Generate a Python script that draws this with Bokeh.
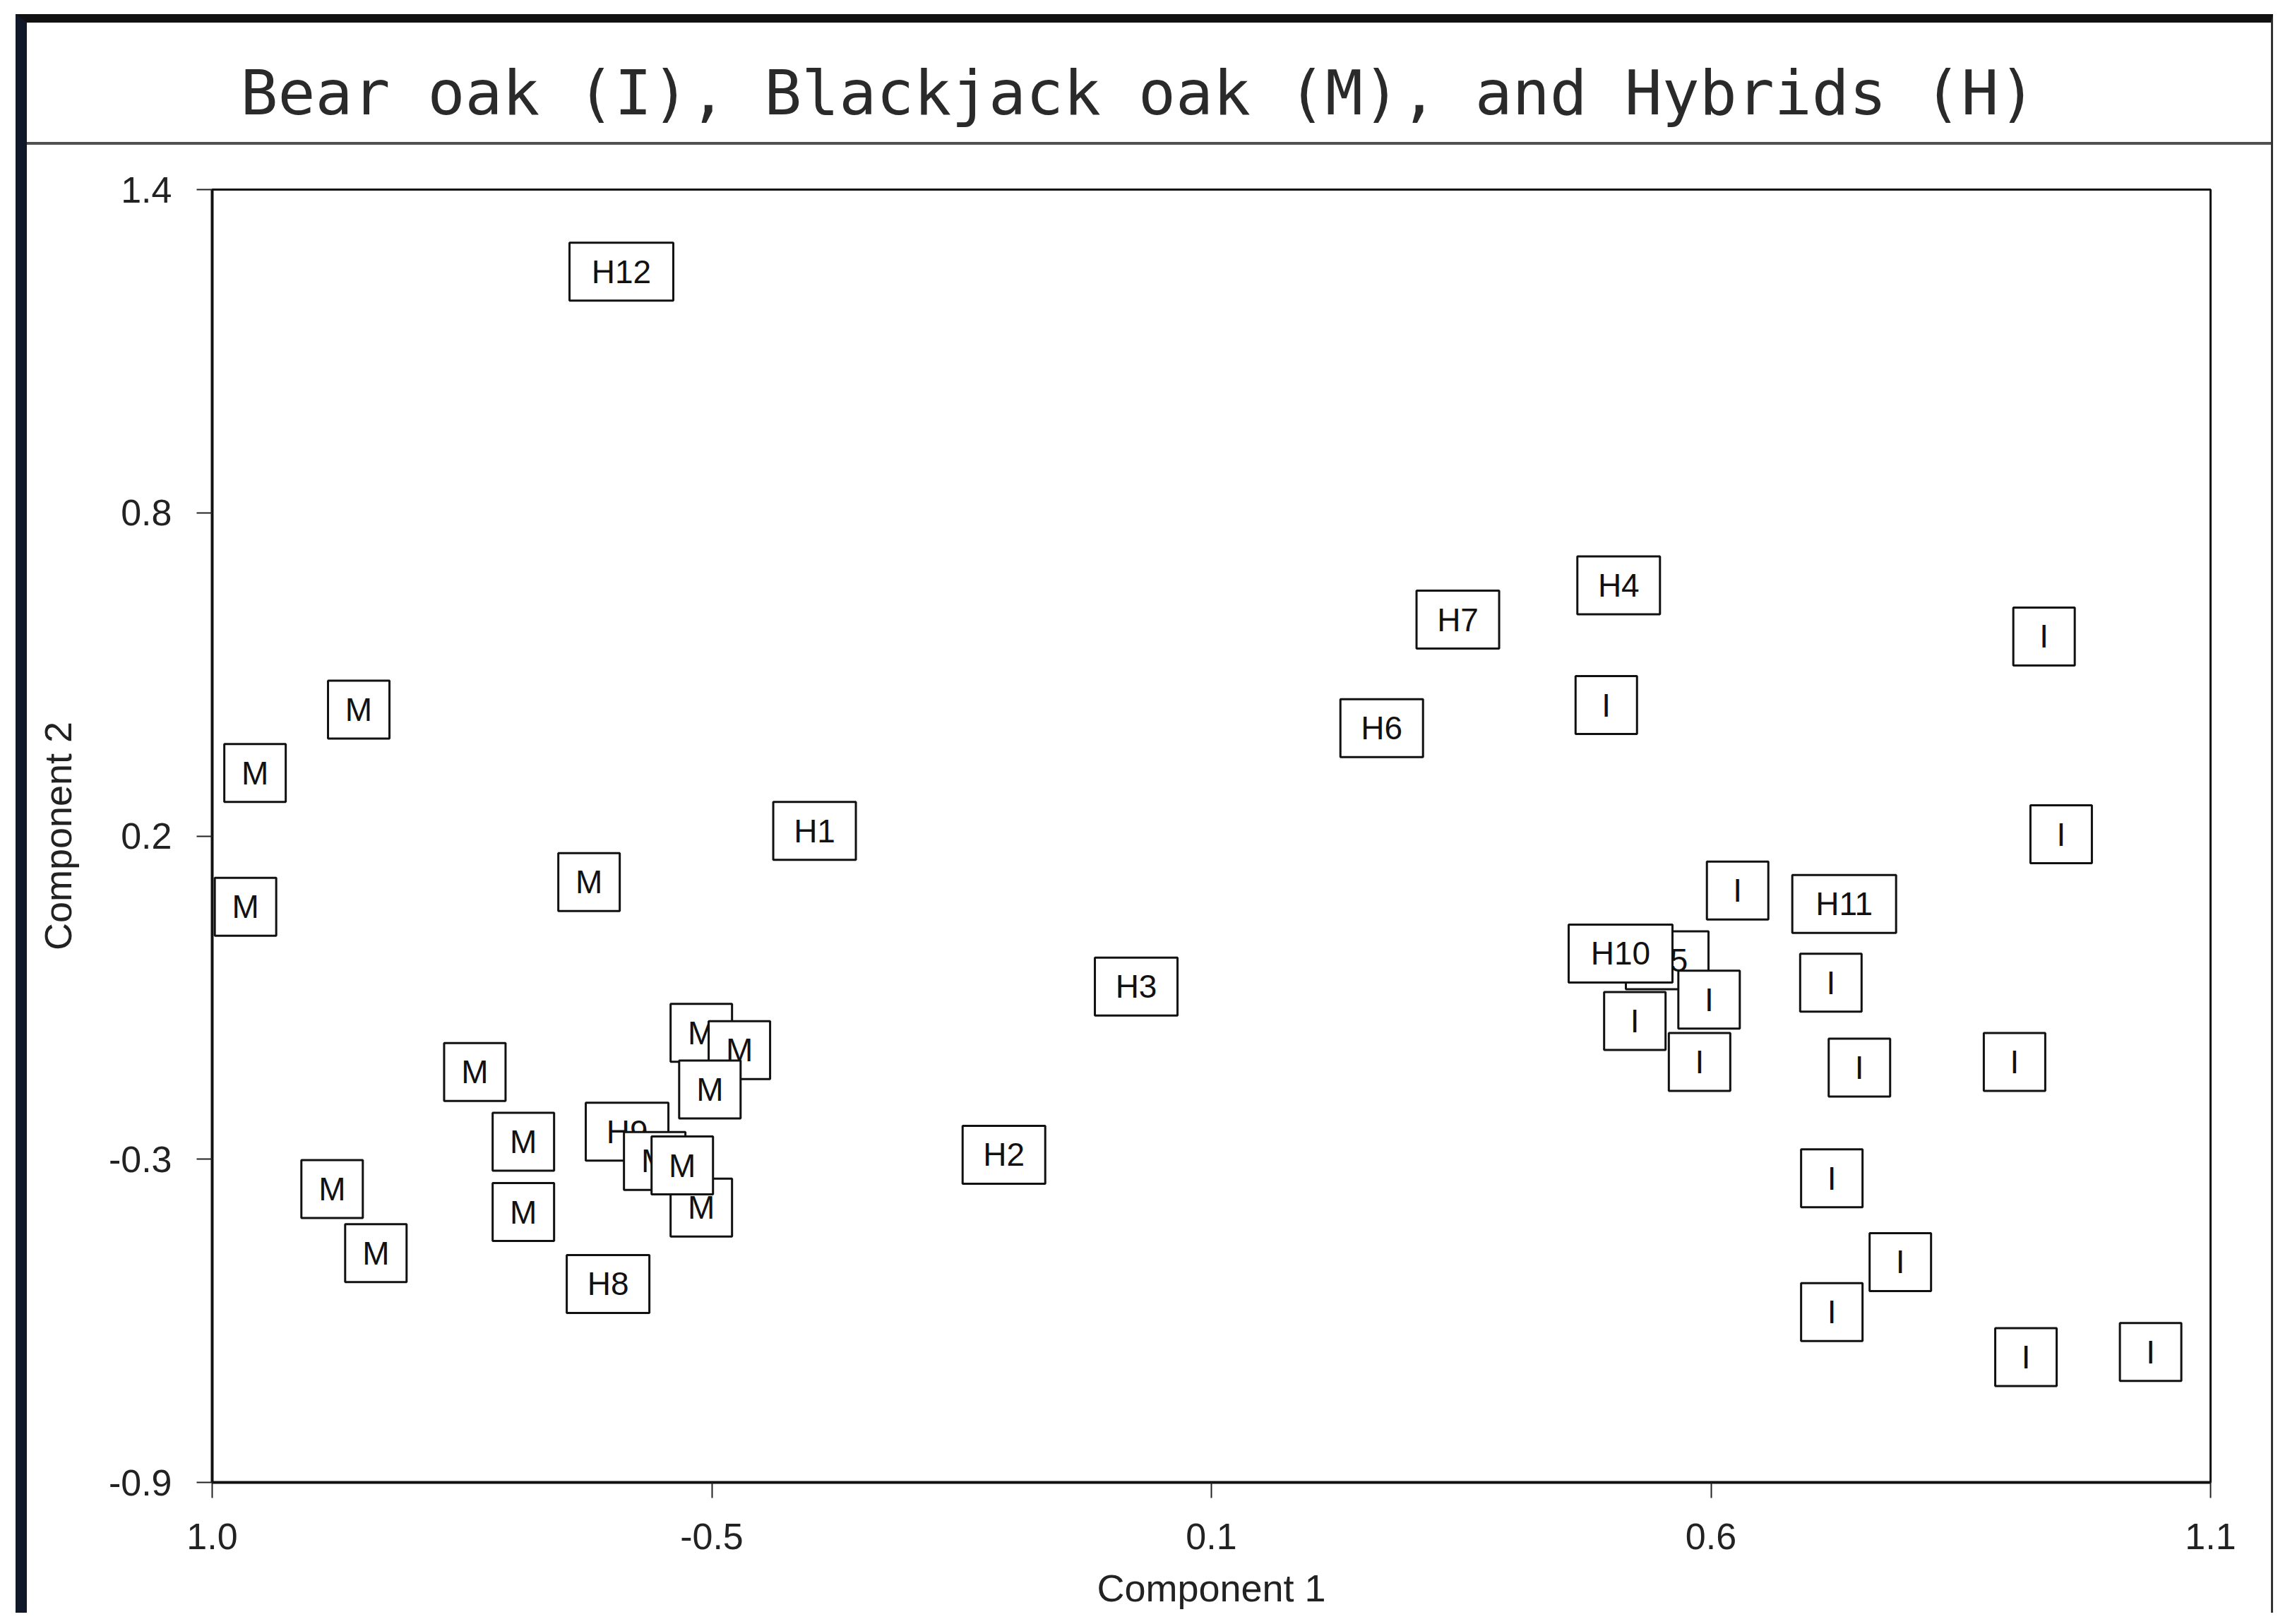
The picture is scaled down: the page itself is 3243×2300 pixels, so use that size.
from bokeh.plotting import figure
from bokeh.models import FixedTicker, LinearAxis
from bokeh.embed import file_html
from bokeh.resources import INLINE
from bokeh.core.properties import value

# ---------------- data ----------------
title_text = "Bear oak (I), Blackjack oak (M), and Hybrids (H)"
x_label = "Component 1"
y_label = "Component 2"

x_ticks = [-1.0, -0.475, 0.05, 0.575, 1.1]
x_tick_labels = ["1.0", "-0.5", "0.1", "0.6", "1.1"]
y_ticks = [-0.9, -0.325, 0.25, 0.825, 1.4]
y_tick_labels = ["-0.9", "-0.3", "0.2", "0.8", "1.4"]

# Hybrids (H)
hybrid_labels = ["H1", "H2", "H3", "H4", "H5", "H6", "H7", "H8", "H9", "H10", "H11", "H12"]
hybrid_x = [-0.367, -0.168, -0.029, 0.478, 0.529, 0.229, 0.309, -0.584, -0.564, 0.480, 0.715, -0.570]
hybrid_y = [0.259, -0.317, -0.018, 0.696, 0.029, 0.442, 0.635, -0.547, -0.276, 0.041, 0.129, 1.254]

# Blackjack oak (M)
blackjack_x = [-0.846, -0.955, -0.965, -0.604, -0.724, -0.874, -0.828, -0.673, -0.673,
               -0.486, -0.446, -0.477, -0.486, -0.535, -0.506]
blackjack_y = [0.475, 0.362, 0.124, 0.168, -0.170, -0.378, -0.492, -0.294, -0.419,
               -0.100, -0.131, -0.201, -0.411, -0.328, -0.336]

# Bear oak (I)
bear_x = [0.465, 0.925, 0.943, 0.603, 0.573, 0.495, 0.563, 0.701, 0.731, 0.894,
          0.702, 0.774, 0.702, 0.906, 1.037]
bear_y = [0.483, 0.605, 0.253, 0.153, -0.041, -0.079, -0.152, -0.011, -0.162, -0.152,
          -0.359, -0.508, -0.597, -0.677, -0.668]

# ---------------- figure ----------------
# page decoration (edges of the scanned page, rule under the title) done with CSS
MARGIN_L, MARGIN_T = 22, 20
EDGE_L, EDGE_T, EDGE_R = 16, 12, 3
RULE_TOP, RULE_BOTTOM = 169, 173
W, H = 3197, 2264
BL, BR, BT, BB = 262, 105, 236, 197

p = figure(width=W, height=H, x_range=(-1.0, 1.1), y_range=(-0.9, 1.4),
           output_backend="svg", toolbar_location=None,
           min_border_left=BL, min_border_right=BR,
           min_border_top=BT, min_border_bottom=BB,
           title=title_text)
p.styles = {
    "box-sizing": "border-box",
    "margin-left": f"{MARGIN_L}px",
    "margin-top": f"{MARGIN_T}px",
    "border-top": f"{EDGE_T}px solid #111111",
    "border-left": f"{EDGE_L}px solid #10182a",
    "border-right": f"{EDGE_R}px solid #333333",
    "background": (f"linear-gradient(to bottom, #ffffff 0px, #ffffff {RULE_TOP}px, "
                   f"#505050 {RULE_TOP}px, #505050 {RULE_BOTTOM}px, "
                   f"#ffffff {RULE_BOTTOM}px, #ffffff 100%)"),
}
p.grid.visible = False
p.background_fill_color = "white"
p.border_fill_alpha = 0.0
p.outline_line_color = "#111111"
p.outline_line_width = 3

LABEL_FONT = "Liberation Sans"
TITLE_FONT = "DejaVu Sans Mono"

p.title.text_font = TITLE_FONT
p.title.text_font_size = "88px"
p.title.text_font_style = "normal"
p.title.text_color = "#2a2a2a"
p.title.align = "left"
p.title.offset = 40
p.title.standoff = 10

xa = p.below[0]
ya = p.left[0]
for ax in (xa, ya):
    ax.axis_line_width = 4
    ax.axis_line_color = "#111111"
    ax.major_tick_out = 22
    ax.major_tick_in = 0
    ax.minor_tick_out = 0
    ax.minor_tick_in = 0
    ax.major_tick_line_width = 2
    ax.major_tick_line_color = "#222222"
    ax.major_label_text_font = LABEL_FONT
    ax.major_label_text_font_size = "52px"
    ax.major_label_text_color = "#222222"
    ax.axis_label_text_font = LABEL_FONT
    ax.axis_label_text_font_size = "54px"
    ax.axis_label_text_font_style = "normal"
    ax.axis_label_text_color = "#222222"

xa.ticker = FixedTicker(ticks=x_ticks)
xa.major_label_overrides = dict(zip(x_ticks, x_tick_labels))
ya.ticker = FixedTicker(ticks=y_ticks)
ya.major_label_overrides = dict(zip(y_ticks, y_tick_labels))
xa.axis_label = x_label
ya.axis_label = y_label
xa.major_label_standoff = 36
xa.axis_label_standoff = 22
ya.major_label_standoff = 35
ya.axis_label_standoff = 39
ya.major_label_orientation = "horizontal"

# empty spacer between the frame and the title (lifts the title above the rule)
spacer = LinearAxis(ticker=FixedTicker(ticks=[]), axis_line_alpha=0,
                    major_tick_out=0, major_tick_in=0, minor_tick_out=0, minor_tick_in=0,
                    major_tick_line_alpha=0, minor_tick_line_alpha=0,
                    axis_label=" ", axis_label_standoff=67,
                    axis_label_text_font_size="10px")
p.add_layout(spacer, "above")

# ---------------- boxed labels ----------------
groups = [
    (hybrid_labels, hybrid_x, hybrid_y),
    (["M"] * len(blackjack_x), blackjack_x, blackjack_y),
    (["I"] * len(bear_x), bear_x, bear_y),
]
for labels, xs, ys in groups:
    for lab, xv, yv in zip(labels, xs, ys):
        bw = 57 + 30 * len(lab)
        p.rect(x=[xv], y=[yv], width=bw, height=82,
               width_units="screen", height_units="screen",
               fill_color="white", line_color="#111111", line_width=3)
        p.text(x=[xv], y=[yv], text=[lab], text_align="center",
               text_baseline="middle", text_font=value(LABEL_FONT),
               text_font_size="46px", text_color="#111111")

open("out.html", "w").write(file_html(p, INLINE))
